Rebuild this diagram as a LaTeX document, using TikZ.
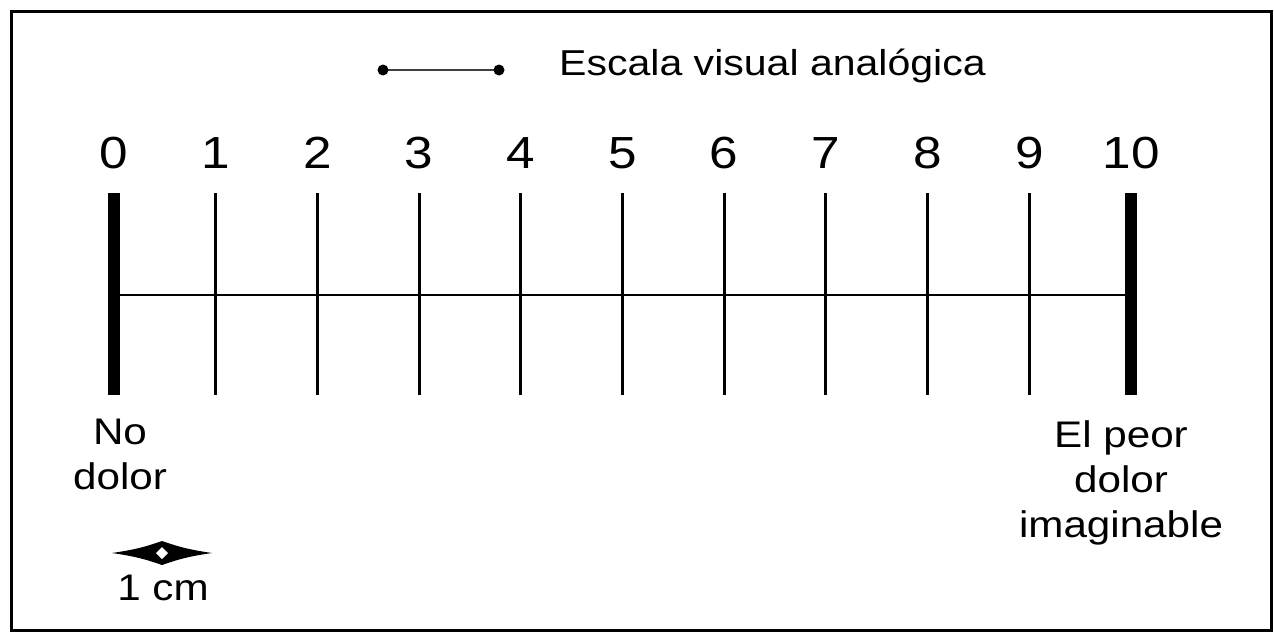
\documentclass[tikz,border=0pt]{standalone}
\usepackage{fontspec}
\setmainfont[FakeStretch=1.14]{Liberation Sans}
\begin{document}
\begin{tikzpicture}[x=1pt,y=-1pt,
  lbl/.style={inner sep=0pt,font=\fontsize{37}{45}\selectfont,align=center},
  num/.style={inner sep=0pt,font=\fontsize{45}{50}\selectfont,anchor=base},
  thin tick/.style={line width=3pt},
  thick tick/.style={line width=12pt},
  axis/.style={line width=2.8pt}]
\useasboundingbox (0,0) rectangle (1274,632);
\draw[line width=3pt] (11.5,11) rectangle (1271,630.5);
% dumbbell
\coordinate (dL) at (383,70);
\coordinate (dR) at (499,70);
\draw[line width=2pt,black!75] (dL) -- (dR);
\fill (dL) circle (5.5);
\fill (dR) circle (5.5);
\node[lbl,anchor=base west,font=\fontsize{36}{44}\selectfont] (title) at (559,75) {Escala visual analógica};
% axis
\foreach \i in {0,...,10}{
  \coordinate (t\i) at ({114+101.7*\i},193);
  \coordinate (b\i) at ({114+101.7*\i},395);
  \node[num] (n\i) at ({114+101.7*\i},168) {\i};
}
\draw[axis] (t0 |- 0,295) coordinate (hl) -- (t10 |- 0,295) coordinate (hr);
\draw[thick tick] (t0) -- (b0);
\draw[thick tick] (t10) -- (b10);
\foreach \i in {1,...,9}{\draw[thin tick] (t\i) -- (b\i);}
% end labels
\node[lbl,anchor=north] (nodolor) at (120,419) {No\\dolor};
\node[lbl,anchor=north] (peor) at (1121,420) {El peor\\dolor\\imaginable};
% 1 cm symbol
\coordinate (cmL) at (112,553);
\coordinate (cmR) at (212,553);
\coordinate (cmC) at (162,553);
\fill (cmL) .. controls (140,549) and (150,545) .. (162,541)
  .. controls (174,545) and (184,549) .. (cmR)
  .. controls (184,557) and (174,561) .. (162,565)
  .. controls (150,561) and (140,557) .. (cmL) -- cycle;
\fill[white] (156,553) -- (162,547) -- (168,553) -- (162,559) -- cycle;
\node[lbl,anchor=base] (cm) at (163,600) {1 cm};
\end{tikzpicture}
\end{document}
